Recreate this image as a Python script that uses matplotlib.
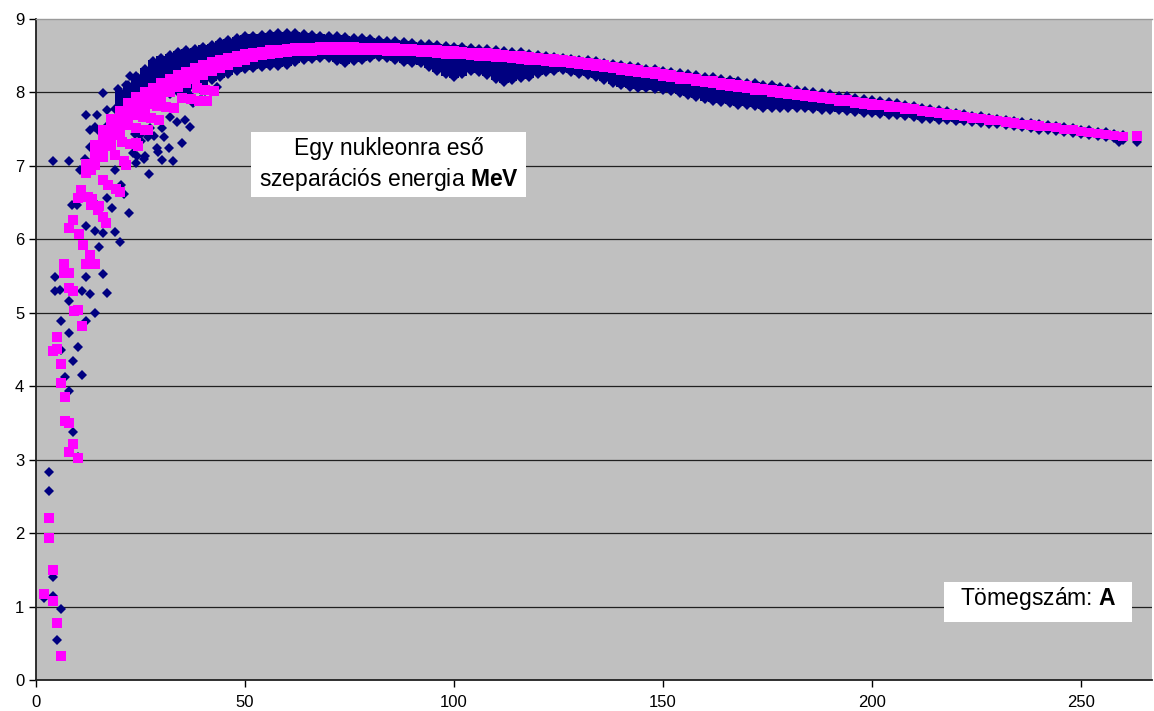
import numpy as np
import matplotlib
matplotlib.use('Agg')
import matplotlib.pyplot as plt
from matplotlib.patches import Rectangle

plt.rcParams['font.family'] = ['Liberation Sans', 'DejaVu Sans']
plt.rcParams['mathtext.fontset'] = 'custom'
plt.rcParams['mathtext.rm'] = 'Liberation Sans'
plt.rcParams['mathtext.bf'] = 'Liberation Sans:bold'

# ---- data ----
# light nuclei, single points (A, E/A in MeV)
meas_a = [2, 3, 3, 4, 4, 5, 6, 4, 8,
          4.5, 4.6, 5.7, 6, 6, 7, 8, 8, 8, 8.9, 8.9, 10.1, 10.1, 11, 12, 14,
          11, 13, 12, 16, 17, 15, 14, 16, 19, 20, 12, 8.5, 9.7, 14, 17, 18.2,
          22.2, 21, 20.3, 19, 10.5, 11.7, 12.8, 12.8, 14.1, 15.1, 12, 14.5,
          16.1, 16.9, 18.9, 18.1, 17.1, 19.7,
          23.8, 25.1, 26.7, 28.3, 30.7, 31.9, 32.7, 30.1, 29.1, 25.9, 23.9,
          23.1, 27.1, 24.1, 26.1, 28.9, 34.9, 36.8, 35.6, 33.7, 32.1, 30.1,
          27.3, 24.9, 39.2, 40.4, 37.6, 36.8, 39.6, 43.2, 22.5, 24.5, 23.3,
          20.5, 21.5, 259, 263.5]
meas_e = [1.11, 2.83, 2.57, 1.40, 1.14, 0.54, 0.96, 7.07, 7.06,
          5.49, 5.29, 5.31, 4.89, 4.49, 4.13, 5.16, 4.72, 3.93, 4.34, 3.37, 4.54, 3.04, 4.15, 4.89, 5.00,
          5.30, 5.25, 5.49, 5.53, 5.27, 5.89, 6.11, 6.08, 6.10, 5.96, 6.18, 6.47, 6.47, 6.49, 6.56, 6.42,
          6.36, 6.62, 6.74, 6.94, 6.94, 7.10, 7.26, 7.49, 7.53, 7.47, 7.69, 7.69,
          7.99, 7.76, 7.78, 7.53, 7.54, 8.05,
          7.44, 7.34, 7.39, 7.41, 7.40, 7.24, 7.06, 7.08, 7.19, 7.10, 7.04,
          7.17, 6.89, 7.13, 7.13, 7.24, 7.31, 7.53, 7.63, 7.60, 7.67, 7.51,
          7.51, 7.42, 7.90, 7.90, 7.85, 7.97, 8.02, 8.08, 8.22, 8.19, 8.08,
          7.95, 8.10, 7.33, 7.32]

# measured band, A = 20..260 step 2: upper and lower edge
meas_band_a = list(range(20, 262, 2))
meas_top = [8.05, 8.15, 8.27, 8.36, 8.47, 8.52, 8.56, 8.60, 8.62, 8.64, 8.67,
            8.69, 8.73, 8.76, 8.78, 8.81, 8.82, 8.83, 8.84, 8.85, 8.85,
            8.85, 8.84, 8.83, 8.82, 8.81, 8.81, 8.80, 8.79, 8.78, 8.77,
            8.76, 8.75, 8.74, 8.73, 8.72, 8.71, 8.70, 8.69, 8.68, 8.67,
            8.66, 8.65, 8.64, 8.63, 8.62, 8.61, 8.60, 8.59, 8.57, 8.56,
            8.54, 8.53, 8.51, 8.50, 8.49, 8.48, 8.47, 8.45, 8.43, 8.42,
            8.41, 8.39, 8.37, 8.36, 8.34, 8.33, 8.31, 8.29, 8.28, 8.26,
            8.25, 8.23, 8.22, 8.20, 8.18, 8.17, 8.15, 8.14, 8.12, 8.10,
            8.08, 8.07, 8.05, 8.04, 8.02, 8.00, 7.99, 7.97, 7.96, 7.94,
            7.93, 7.91, 7.90, 7.88, 7.86, 7.84, 7.82, 7.81, 7.79, 7.77,
            7.75, 7.73, 7.72, 7.70, 7.69, 7.67, 7.66, 7.64, 7.63, 7.62,
            7.60, 7.59, 7.57, 7.56, 7.54, 7.53, 7.51, 7.50, 7.48, 7.46]
meas_bot = [7.45, 7.55, 7.65, 7.75, 7.82, 7.88, 7.93, 7.96, 7.99, 8.02, 8.05,
            8.12, 8.17, 8.21, 8.25, 8.28, 8.29, 8.30, 8.31, 8.32, 8.33,
            8.37, 8.40, 8.41, 8.43, 8.42, 8.38, 8.36, 8.38, 8.40, 8.42,
            8.44, 8.43, 8.40, 8.37, 8.36, 8.35, 8.30, 8.25, 8.20, 8.17,
            8.20, 8.25, 8.23, 8.19, 8.14, 8.10, 8.12, 8.15, 8.17, 8.21,
            8.24, 8.25, 8.26, 8.24, 8.21, 8.19, 8.16, 8.12, 8.08, 8.05,
            8.03, 8.02, 8.01, 8.00, 7.99, 7.97, 7.95, 7.92, 7.89, 7.86,
            7.84, 7.83, 7.81, 7.79, 7.78, 7.77, 7.75, 7.74, 7.74, 7.74,
            7.74, 7.74, 7.73, 7.72, 7.72, 7.71, 7.70, 7.69, 7.68, 7.67,
            7.66, 7.65, 7.65, 7.64, 7.62, 7.60, 7.59, 7.58, 7.58, 7.57,
            7.56, 7.55, 7.54, 7.53, 7.52, 7.51, 7.50, 7.48, 7.47, 7.45,
            7.44, 7.43, 7.42, 7.40, 7.39, 7.38, 7.36, 7.35, 7.33, 7.31]

# formula values, single points
calc_a = [2, 3, 3, 4, 4, 5, 6,
          4, 5, 5, 6, 6, 6.9, 6.9, 8, 8.9, 8, 10.1,
          9.1, 10.1, 10.9, 6.8, 6.8, 8, 8, 8.8,
          11.2, 12.8, 12, 14, 8.8, 8, 10.4,
          10.8, 10, 12.4, 13.2, 14.8, 16, 16.7,
          12, 13.2, 16, 17.2, 19.1, 20, 21.5, 23.9, 26.7,
          25, 27, 29, 31, 33, 35, 37, 39, 41, 38.5, 40.5, 42.5,
          23.5, 25.5, 27.5, 29.5, 22, 24, 26, 20.5, 22.5, 24.5, 19, 21,
          13.5, 15, 263.5]
calc_e = [1.17, 2.20, 1.94, 1.50, 1.08, 0.78, 0.33,
          4.48, 4.51, 4.67, 4.30, 4.04, 3.86, 3.53, 3.50, 3.21, 3.10, 3.02,
          5.03, 5.04, 4.82, 5.67, 5.54, 5.54, 5.34, 5.29,
          5.92, 5.79, 5.67, 5.66, 6.26, 6.15, 6.07,
          6.67, 6.56, 6.58, 6.47, 6.40, 6.31, 6.22,
          6.90, 6.94, 6.81, 6.74, 6.69, 6.65, 7.01, 7.31, 7.49,
          7.86, 7.84, 7.82, 7.80, 7.79, 7.93, 7.91, 7.89, 7.88, 8.06, 8.04, 8.02,
          7.70, 7.67, 7.65, 7.63, 7.55, 7.52, 7.49, 7.33, 7.30, 7.27, 7.15, 7.07,
          6.55, 6.45, 7.41]

# formula band, A = 12..260 step 2
calc_band_a = list(range(12, 262, 2))
calc_top = [7.10, 7.35, 7.55, 7.70, 7.82,
            7.92, 8.00, 8.07, 8.13, 8.19, 8.25, 8.30, 8.35, 8.40, 8.44,
            8.48, 8.51, 8.54, 8.57, 8.59, 8.61, 8.62, 8.64, 8.65, 8.66,
            8.67, 8.68, 8.68, 8.69, 8.69, 8.69, 8.69, 8.69, 8.68, 8.68,
            8.68, 8.67, 8.67, 8.66, 8.66, 8.65, 8.65, 8.64, 8.63, 8.63,
            8.62, 8.61, 8.60, 8.60, 8.59, 8.58, 8.57, 8.56, 8.55, 8.54,
            8.53, 8.52, 8.51, 8.49, 8.48, 8.47, 8.45, 8.44, 8.42, 8.40,
            8.39, 8.37, 8.35, 8.34, 8.32, 8.30, 8.28, 8.27, 8.25, 8.23,
            8.22, 8.20, 8.18, 8.17, 8.15, 8.13, 8.12, 8.10, 8.09, 8.07,
            8.05, 8.04, 8.02, 8.01, 7.99, 7.97, 7.96, 7.94, 7.93, 7.91,
            7.90, 7.88, 7.87, 7.85, 7.84, 7.82, 7.80, 7.79, 7.77, 7.76,
            7.74, 7.72, 7.71, 7.69, 7.68, 7.66, 7.65, 7.63, 7.62, 7.61,
            7.59, 7.58, 7.56, 7.55, 7.53, 7.52, 7.50, 7.49, 7.47, 7.46]
calc_bot = [6.85, 6.95, 7.05, 7.20, 7.35,
            7.50, 7.62, 7.72, 7.80, 7.87, 7.94, 8.00, 8.06, 8.12, 8.17,
            8.22, 8.26, 8.30, 8.34, 8.38, 8.42, 8.44, 8.46, 8.47, 8.48,
            8.49, 8.50, 8.50, 8.51, 8.51, 8.51, 8.51, 8.51, 8.51, 8.51,
            8.51, 8.50, 8.50, 8.49, 8.49, 8.48, 8.48, 8.47, 8.46, 8.46,
            8.45, 8.44, 8.43, 8.43, 8.42, 8.41, 8.40, 8.39, 8.38, 8.37,
            8.36, 8.35, 8.34, 8.33, 8.32, 8.31, 8.29, 8.28, 8.26, 8.24,
            8.23, 8.21, 8.19, 8.18, 8.16, 8.14, 8.12, 8.11, 8.09, 8.07,
            8.06, 8.04, 8.02, 8.01, 7.99, 7.97, 7.96, 7.94, 7.93, 7.91,
            7.90, 7.89, 7.87, 7.86, 7.84, 7.82, 7.81, 7.79, 7.78, 7.76,
            7.76, 7.74, 7.73, 7.71, 7.70, 7.68, 7.66, 7.65, 7.63, 7.62,
            7.61, 7.59, 7.58, 7.56, 7.55, 7.53, 7.52, 7.50, 7.49, 7.48,
            7.47, 7.46, 7.44, 7.43, 7.41, 7.40, 7.38, 7.37, 7.35, 7.34]

x_ticks = [0, 50, 100, 150, 200, 250]
y_ticks = [0, 1, 2, 3, 4, 5, 6, 7, 8, 9]

navy = '#000080'
pink = '#FF00FF'

fig = plt.figure(figsize=(11.54, 7.11), dpi=100)
ax = fig.add_axes([36/1154, 31/711, 1116/1154, 661/711])
ax.set_facecolor('#C0C0C0')

# horizontal grid lines (not at 0 and 9)
for yv in y_ticks[1:-1]:
    ax.axhline(yv, color='#202020', lw=0.9, zorder=0.5)

# measured values: band + edge diamonds + single points
mt = np.array(meas_top)
mb = np.array(meas_bot)
ax.vlines(meas_band_a, mb + 0.03, mt - 0.03, color=navy, lw=7, zorder=2,
          antialiased=False)
ax.plot(meas_band_a, mt - 0.045, 'D', color=navy, ms=4.6, mew=0, zorder=2)
ax.plot(meas_band_a, mb + 0.045, 'D', color=navy, ms=4.6, mew=0, zorder=2)
ax.plot(meas_a, meas_e, 'D', color=navy, ms=4.9, mew=0, zorder=2)

# formula values: band + single squares
ax.vlines(calc_band_a, calc_bot, calc_top, color=pink, lw=7, zorder=3,
          antialiased=False)
ax.plot(calc_a, calc_e, 's', color=pink, ms=6.8, mew=0, zorder=3)

ax.set_xlim(0, 267)
ax.set_ylim(0, 9)
ax.set_xticks(x_ticks)
ax.set_yticks(y_ticks)
ax.tick_params(direction='out', length=5, width=1, labelsize=12, colors='black')
ax.tick_params(axis='x', pad=6)

for s in ['left', 'bottom']:
    ax.spines[s].set_color('#202020')
    ax.spines[s].set_linewidth(1.3)
ax.spines['right'].set_visible(False)
ax.spines['top'].set_color('#9a9a9a')
ax.spines['top'].set_linewidth(1.0)

# label boxes
ax.add_patch(Rectangle((0.1927, 0.7307), 0.2463, 0.0983, transform=ax.transAxes,
                       facecolor='white', edgecolor='none', zorder=5))
ax.text(0.3159, 0.7943, 'Egy nukleonra eső', transform=ax.transAxes,
        ha='center', va='baseline', fontsize=16.5, zorder=6)
ax.text(0.3159, 0.7474, 'szeparációs energia $\\mathbf{MeV}$', transform=ax.transAxes,
        ha='center', va='baseline', fontsize=16.5, zorder=6)

ax.add_patch(Rectangle((0.8136, 0.0877), 0.1685, 0.0605, transform=ax.transAxes,
                       facecolor='white', edgecolor='none', zorder=5))
ax.text(0.8978, 0.1135, 'Tömegszám: $\\mathbf{A}$', transform=ax.transAxes,
        ha='center', va='baseline', fontsize=16.5, zorder=6)

fig.savefig('out.png', dpi=100)
